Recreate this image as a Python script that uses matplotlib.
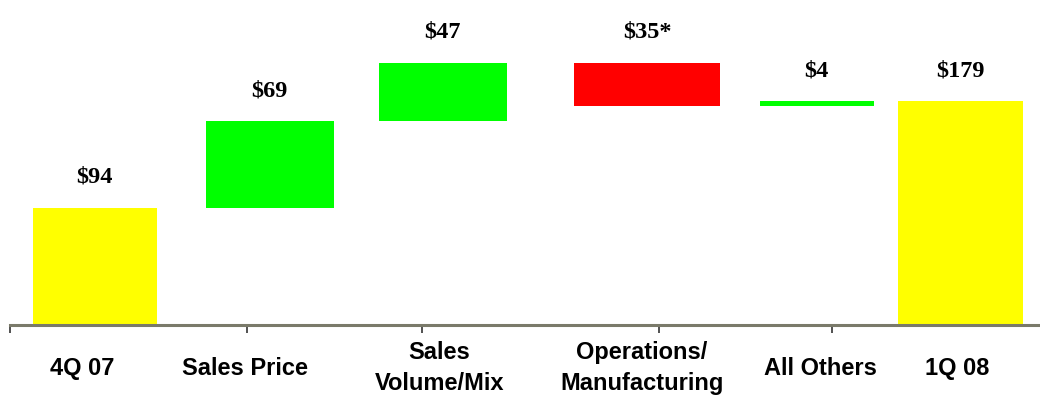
import numpy as np
import matplotlib
matplotlib.use('Agg')
import matplotlib.pyplot as plt

categories = ['4Q 07', 'Sales Price', 'Sales\nVolume/Mix', 'Operations/\nManufacturing', 'All Others', '1Q 08']
changes = [94, 69, 47, -35, 4, 179]
value_labels = ['$94', '$69', '$47', '$35*', '$4', '$179']
is_total = [True, False, False, False, False, True]

# layout (slide had uneven spacing)
bar_x = [0, 1.01, 2.01, 3.19, 4.17, 5]
bar_w = [0.72, 0.74, 0.74, 0.84, 0.66, 0.72]
label_x = [-0.075, 0.87, 1.99, 3.16, 4.19, 4.98]

# waterfall bottoms / heights
bottoms = []
heights = []
running = 0
for v, tot in zip(changes, is_total):
    if tot:
        bottoms.append(0)
        heights.append(v)
        running = v
    else:
        if v >= 0:
            bottoms.append(running)
        else:
            bottoms.append(running + v)
        heights.append(abs(v))
        running += v

colors = []
for v, tot in zip(changes, is_total):
    if tot:
        colors.append('#ffff00')
    elif v >= 0:
        colors.append('#00ff00')
    else:
        colors.append('#ff0000')

fig = plt.figure(figsize=(10.4, 4.05), dpi=100)
ax = fig.add_axes([10 / 1040, 80 / 405, 1030 / 1040, 325 / 405])

ax.bar(bar_x, heights, bottom=bottoms, width=bar_w, color=colors, edgecolor='none')

# value labels above each bar
for i, lab in enumerate(value_labels):
    top = bottoms[i] + heights[i]
    ax.annotate(lab, (bar_x[i], top), xytext=(0, 22), textcoords='offset points',
                ha='center', va='center', fontsize=17.5, fontweight='bold',
                family='Liberation Serif')

ax.set_xlim(-0.49, 5.46)
ax.set_ylim(0, 260)

for s in ['left', 'right', 'top']:
    ax.spines[s].set_visible(False)
ax.spines['bottom'].set_color('#7a7a6a')
ax.spines['bottom'].set_linewidth(2.2)

ax.set_yticks([])
ax.set_xticks(label_x)
ax.set_xticklabels(categories, fontsize=17, fontweight='bold', family='Liberation Sans',
                   va='center', linespacing=1.45)
ax.tick_params(axis='x', which='major', length=0, pad=31)
ax.set_xticks([-0.49, 0.88, 1.89, 3.26, 4.26], minor=True)
ax.tick_params(axis='x', which='minor', length=6, width=1.2, color='#333333')

plt.savefig('out.png', dpi=100)
